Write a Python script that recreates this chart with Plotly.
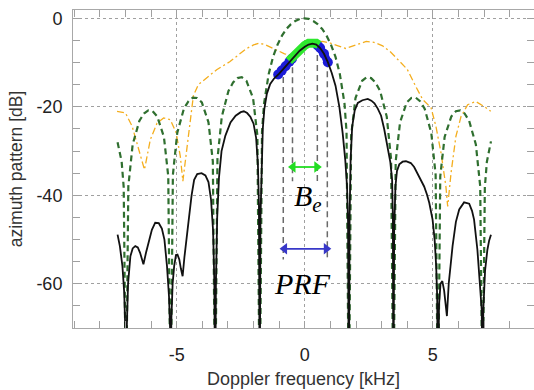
import plotly.graph_objects as go

# ---------------- data ----------------
# black solid: weighted azimuth pattern
black_f = [-7.31, -7.22, -7.12, -7.05, -7.01, -6.98, -6.95, -6.9, -6.81, -6.72, -6.62, -6.52, -6.43, -6.3,
           -6.2, -6.1, -5.97, -5.84, -5.7, -5.58, -5.48, -5.38, -5.3, -5.26, -5.24, -5.21, -5.16, -5.1,
           -5.03, -4.97, -4.9, -4.84, -4.77, -4.7, -4.61, -4.52, -4.42, -4.32, -4.2, -4.03, -3.88, -3.76,
           -3.66, -3.58, -3.53, -3.5, -3.47, -3.42, -3.35, -3.25, -3.1, -2.9, -2.7, -2.5, -2.38, -2.25,
           -2.12, -2.0, -1.9, -1.83, -1.79, -1.76, -1.73, -1.69, -1.64, -1.58, -1.48, -1.35, -1.2, -1.0,
           -0.8, -0.6, -0.4, -0.2, 0.0, 0.15, 0.3, 0.45, 0.6, 0.75, 0.9, 1.05, 1.2, 1.35, 1.48, 1.58,
           1.65, 1.69, 1.72, 1.75, 1.79, 1.85, 1.95, 2.07, 2.25, 2.46, 2.6, 2.72, 2.85, 2.98, 3.1, 3.24,
           3.34, 3.41, 3.44, 3.46, 3.49, 3.54, 3.6, 3.69, 3.82, 3.95, 4.14, 4.27, 4.4, 4.53, 4.66, 4.77,
           4.86, 4.99, 5.07, 5.13, 5.17, 5.2, 5.24, 5.3, 5.37, 5.44, 5.5, 5.55, 5.62, 5.7, 5.77, 5.9,
           6.03, 6.22, 6.42, 6.53, 6.61, 6.74, 6.85, 6.91, 6.94, 6.97, 7.04, 7.13, 7.2, 7.27]
black_db = [-48.9, -51.5, -56, -62, -70, -90, -70, -60, -53.8, -52, -51.5, -51.8, -53, -55.6,
            -53, -50.7, -47.8, -46.2, -46.3, -47.5, -50, -56, -63, -70, -90, -68, -60, -56,
            -53.5, -53.4, -54.5, -56.5, -58.3, -54, -50, -45, -40, -36.5, -35.2, -35, -35.5, -37,
            -41, -48, -60, -90, -60, -45, -36, -30, -26.5, -23.5, -22, -21.2, -21, -21.4,
            -22.3, -23.8, -27, -33, -42, -90, -45, -32, -25, -20.5, -17, -14.8, -13.6, -12.5,
            -11.2, -9.8, -8.5, -7.3, -6.4, -5.9, -5.7, -5.9, -6.7, -8.0, -9.9, -12.3, -15.2, -20, -26, -32,
            -38, -46, -90, -45, -32, -24.5, -20.8, -19.1, -18.5, -18.2, -18.6, -19.2, -20.4, -22, -25, -29,
            -32.5, -36.5, -45, -90, -48, -38, -34.5, -33, -32.4, -32.3, -32.7, -33.6, -35, -36.5, -38, -39.8,
            -41.7, -45.5, -50, -56, -63, -90, -65, -60, -59.4, -61.5, -65, -67.3, -60, -55, -51.5, -46,
            -43.2, -41.6, -41.9, -43.5, -45.5, -52.3, -60, -66, -90, -66, -57, -52.3, -50.2, -48.9]

# green dashed: unweighted pattern
green_f = [-7.31, -7.15, -7.07, -6.98, -6.89, -6.72, -6.46, -6.28, -6.11, -5.94, -5.76, -5.5, -5.33,
           -5.24, -5.15, -4.98, -4.72, -4.54, -4.37, -4.2, -4.02, -3.76, -3.59, -3.5, -3.41, -3.24,
           -2.98, -2.8, -2.63, -2.46, -2.28, -2.02, -1.85, -1.76, -1.67, -1.59, -1.41, -1.24, -1.06,
           -0.89, -0.72, -0.54, -0.37, -0.19, -0.02, 0.15, 0.33, 0.5, 0.68, 0.85, 1.02, 1.2, 1.37,
           1.55, 1.63, 1.72, 1.81, 1.98, 2.24, 2.42, 2.59, 2.76, 2.94, 3.2, 3.37, 3.46, 3.55, 3.72,
           3.98, 4.16, 4.33, 4.5, 4.68, 4.94, 5.11, 5.2, 5.29, 5.46, 5.72, 5.9, 6.07, 6.24, 6.42,
           6.68, 6.85, 6.94, 7.03, 7.11, 7.27]
green_db = [-28.0, -32.4, -38.2, -90, -38.0, -28.5, -23.2, -21.5, -20.8, -21.0, -22.2, -26.8, -35.7,
            -90, -35.4, -25.9, -20.4, -18.7, -17.9, -18.0, -19.0, -23.5, -32.3, -90, -31.8, -22.2,
            -16.4, -14.5, -13.5, -13.3, -14.1, -18.0, -26.5, -90, -25.6, -19.2, -12.6, -8.7, -5.9,
            -3.9, -2.4, -1.3, -0.6, -0.1, 0.0, -0.1, -0.6, -1.3, -2.4, -3.9, -5.9, -8.7, -12.6,
            -19.2, -25.6, -90, -26.5, -18.0, -14.1, -13.3, -13.5, -14.5, -16.4, -22.2, -31.8, -90, -32.3, -23.5,
            -19.0, -18.0, -17.9, -18.7, -20.4, -25.9, -35.4, -90, -35.7, -26.8, -22.2, -21.0, -20.8, -21.5, -23.2,
            -28.5, -38.0, -90, -38.2, -32.4, -27.8]

# orange dash-dot curve
orange_f = [-7.33, -7.0, -6.74, -6.49, -6.26, -6.03, -5.77, -5.51, -5.25, -5.02, -4.86, -4.76, -4.6,
            -4.45, -4.35, -4.16, -3.96, -3.7, -3.44, -2.93, -2.6, -2.27, -2.0, -1.8, -1.56, -1.17,
            -0.79, -0.5, -0.2, 0.1, 0.4, 0.7, 1.0, 1.3, 1.6, 2.0, 2.4, 2.7, 3.04, 3.35, 3.7, 4.0, 4.3,
            4.6, 4.93, 5.12, 5.32, 5.51, 5.58, 5.71, 5.9, 6.1, 6.36, 6.68, 7.0, 7.26]
orange_db = [-21, -21.4, -24.4, -29.7, -34.2, -27.4, -23.7, -22.5, -22.9, -25.9, -31.2, -36.8, -29,
             -22, -17.5, -15, -14, -12.8, -11.6, -9.8, -8.4, -6.8, -6.0, -5.6, -5.9, -6.9,
             -8.0, -8.4, -7.3, -6.0, -5.3, -5.2, -5.6, -6.2, -6.8, -6.0, -5.2, -5.4, -6.2, -7.6, -9.8, -11.5, -15,
             -18.3, -20.2, -24.4, -30.4, -38, -42.5, -35, -26.7, -22.2, -19.5, -18.8, -19.9, -21]

# highlighted parts of the main lobe
blue_left_f = [-1.04, -0.9, -0.75, -0.6, -0.5]
blue_left_db = [-12.7, -11.8, -10.8, -9.8, -9.1]
blue_right_f = [0.5, 0.6, 0.75, 0.9]
blue_right_db = [-6.1, -6.7, -8.0, -9.9]
band_f = [-0.62, -0.4, -0.2, 0.0, 0.15, 0.3, 0.45, 0.55]
band_db = [-9.6, -8.2, -7.0, -6.1, -5.6, -5.4, -5.6, -6.0]

# dashed markers of the processed bandwidth Be and PRF
mark_f = [-0.84, -0.48, 0.49, 0.88]
mark_top = [-11.0, -8.8, -6.0, -9.7]
mark_bottom = [-54.5, -36.8, -36.8, -54.5]
be_edges = [-0.46, 0.47]
be_level = -33.6
prf_edges = [-0.79, 0.84]
prf_level = -52.1

x_ticks = [-5, 0, 5]
x_labels = ["-5", "0", "5"]
y_ticks = [0, -20, -40, -60]
y_labels = ["0", "-20", "-40", "-60"]

# ---------------- figure ----------------
fig = go.Figure()

vx, vy = [], []
for f, t, b in zip(mark_f, mark_top, mark_bottom):
    vx += [f, f, None]
    vy += [t, b, None]
fig.add_trace(go.Scatter(x=vx, y=vy, mode="lines",
                         line=dict(color="#6a6a6a", width=1.5, dash="6px,4px"), hoverinfo="skip"))

fig.add_trace(go.Scatter(x=orange_f, y=orange_db, mode="lines",
                         line=dict(color="#f4ae1e", width=1.3, dash="7px,3px,2px,3px")))
fig.add_trace(go.Scatter(x=green_f, y=green_db, mode="lines",
                         line=dict(color="#2f6f2f", width=2.2, dash="6px,4px")))

for bf, bd in ((blue_left_f, blue_left_db), (blue_right_f, blue_right_db)):
    fig.add_trace(go.Scatter(x=bf, y=bd, mode="lines+markers",
                             line=dict(color="#1c1cd8", width=8),
                             marker=dict(color="#1c1cd8", size=10, symbol="circle")))
fig.add_trace(go.Scatter(x=band_f, y=band_db, mode="lines",
                         line=dict(color="#2ee82e", width=9)))

fig.add_trace(go.Scatter(x=black_f, y=black_db, mode="lines",
                         line=dict(color="#111111", width=1.8)))

# double-headed arrows (line + triangle heads)
for edges, level, col in ((be_edges, be_level, "#22dd22"), (prf_edges, prf_level, "#3838c8")):
    fig.add_trace(go.Scatter(x=edges, y=[level, level], mode="lines+markers",
                             line=dict(color=col, width=1.8),
                             marker=dict(color=col, size=10,
                                         symbol=["triangle-left", "triangle-right"])))

annotations = [
    dict(x=0.14, y=-40.5, xref="x", yref="y", text="<i>B<sub>e</sub></i>", showarrow=False,
         xanchor="center", yanchor="middle",
         font=dict(family="Liberation Serif, Times New Roman, serif", size=30, color="#000")),
    dict(x=-0.1, y=-59.9, xref="x", yref="y", text="<i>PRF</i>", showarrow=False,
         xanchor="center", yanchor="middle",
         font=dict(family="Liberation Serif, Times New Roman, serif", size=30, color="#000")),
]

axis_common = dict(showline=True, linecolor="#a8a8a8", linewidth=1, mirror="ticks",
                   ticks="inside", ticklen=7, tickcolor="#a0a0a0", tickwidth=1,
                   showgrid=True, gridcolor="#a0a0a0", gridwidth=1, griddash="dot",
                   zeroline=False, tickfont=dict(size=18, color="#222"))

fig.update_layout(
    width=534, height=390,
    margin=dict(l=73, r=0, t=10, b=62),
    paper_bgcolor="white", plot_bgcolor="white",
    showlegend=False,
    font=dict(family="Liberation Sans, Arial, Helvetica, sans-serif", size=18, color="#333"),
    annotations=annotations,
    xaxis=dict(range=[-9.05, 8.95], tickmode="array", tickvals=x_ticks, ticktext=x_labels,
               minor=dict(tickmode="linear", tick0=0, dtick=1, ticks="inside", ticklen=7,
                          tickcolor="#a0a0a0", showgrid=False),
               ticklabelstandoff=10,
               title=dict(text="Doppler frequency [kHz]", font=dict(size=18, color="#333"), standoff=8),
               **axis_common),
    yaxis=dict(range=[-70, 1.9], tickmode="array", tickvals=y_ticks, ticktext=y_labels,
               minor=dict(tickmode="linear", tick0=0, dtick=5, ticks="inside", ticklen=7,
                          tickcolor="#a0a0a0", showgrid=False),
               ticklabelstandoff=6,
               title=dict(text="azimuth pattern [dB]", font=dict(size=17.5, color="#333"), standoff=9),
               **axis_common),
)

fig.write_html("out.html")
